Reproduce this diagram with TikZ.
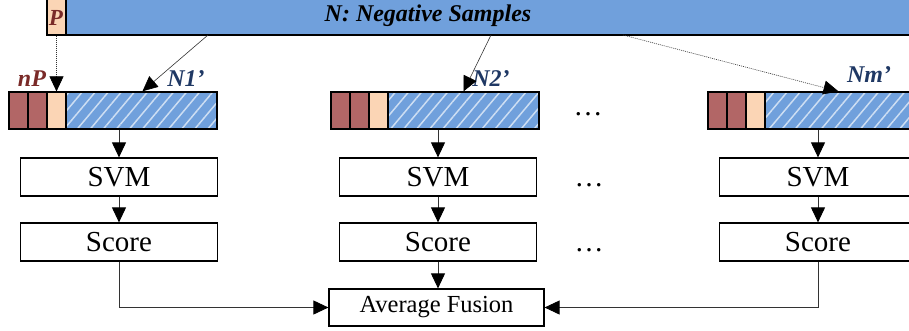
\documentclass[tikz,border=0pt]{standalone}
\usepackage{fontspec}
\setmainfont{Liberation Serif}
\usetikzlibrary{arrows.meta,patterns.meta,calc}
\definecolor{nblue}{RGB}{112,160,220}
\definecolor{peach}{RGB}{251,213,181}
\definecolor{dred}{RGB}{178,102,102}
\definecolor{lred}{RGB}{122,42,40}
\definecolor{lblue}{RGB}{31,56,100}
\tikzset{
  seg/.style={draw, line width=1.2pt, inner sep=0pt, minimum height=37pt},
  hatch/.style={seg, preaction={fill=nblue}, pattern={Lines[angle=50,distance=10pt,line width=1.5pt]}, pattern color=white!65!nblue},
  box/.style={draw, line width=1.2pt, inner sep=0pt, minimum width=197pt, minimum height=38pt, font=\fontsize{29}{34}\selectfont},
  conn/.style={line width=0.9pt, draw=black!80, -{Triangle[length=15pt,width=14pt,color=black]}},
  thin/.style={line width=0.6pt, draw=black!80, -{Triangle[length=15pt,width=14pt,color=black]}},
  lab/.style={font=\fontsize{24}{28}\selectfont\bfseries\itshape, inner sep=0pt},
  dotsl/.style={font=\fontsize{29}{34}\selectfont, inner sep=0pt}
}
\newcommand\mkbar[2]{%
  \node[seg, fill=dred, minimum width=19pt] (#1a) at ({#2+9.5},110.5) {};
  \node[seg, fill=dred, minimum width=19pt] (#1b) at ({#2+28.5},110.5) {};
  \node[seg, fill=peach, minimum width=19pt] (#1c) at ({#2+47.5},110.5) {};
  \node[hatch, minimum width=151pt] (#1h) at ({#2+132.5},110.5) {};
}
\begin{document}
\begin{tikzpicture}[x=1pt,y=-1pt]
\useasboundingbox (0,0) rectangle (909,330);
\clip (0,0) rectangle (909,330);
% top bar
\node[seg, fill=peach, minimum width=19pt, minimum height=42pt] (pbox) at (56.5,14) {};
\node[seg, fill=nblue, minimum width=864pt, minimum height=42pt] (nbar) at (498,14) {};
\node[lab, text=black] (ntext) at (428,16) {N: Negative Samples};
\node[lab, text=lred, font=\fontsize{23}{27}\selectfont\bfseries\itshape] (plab) at (56,18) {P};
% sample bars
\mkbar{ba}{9}
\mkbar{bb}{331}
\mkbar{bc}{708}
\node[lab, text=lred] (nplab) at (32,79) {nP};
\node[lab, text=lblue] (n1lab) at (186,79) {N1'};
\node[lab, text=lblue] (n2lab) at (491,79) {N2'};
\node[lab, text=lblue] (nmlab) at (869,75) {Nm'};
% arrows from top
\coordinate (s1) at (208,35);
\coordinate (s2) at (491,35);
\coordinate (s3) at (623,35);
\draw[thin, dash pattern=on 1pt off 1pt] (pbox.south) -- (bac.north);
\draw[thin] (s1) -- ($(bah.north)+(1,0)$);
\draw[thin] (s2) -- (bbh.north);
\draw[thin, dash pattern=on 1pt off 1pt] (s3) -- ($(bch.north)+(-2,0)$);
% boxes
\node[box] (svm1) at (119,177) {SVM};
\node[box] (svm2) at (438,177) {SVM};
\node[box] (svm3) at (818,177) {SVM};
\node[box] (sc1) at (119,242) {Score};
\node[box] (sc2) at (438,242) {Score};
\node[box] (sc3) at (818,242) {Score};
\node[box, minimum width=215pt, minimum height=37pt, font=\fontsize{24.5}{29}\selectfont] (af) at (436.5,307.5) {Average Fusion};
% dots
\node[dotsl] (d1) at (588,114) {\ldots};
\node[dotsl] (d2) at (589,185) {\ldots};
\node[dotsl] (d3) at (589,250) {\ldots};
% connectors
\draw[conn] (svm1.north |- bah.south) -- (svm1.north);
\draw[conn] (svm2.north |- bbh.south) -- (svm2.north);
\draw[conn] (svm3.north |- bch.south) -- (svm3.north);
\draw[conn] (svm1) -- (sc1);
\draw[conn] (svm2) -- (sc2);
\draw[conn] (svm3) -- (sc3);
\draw[conn] (sc1.south) |- (af.west);
\draw[conn] (sc3.south) |- (af.east);
\draw[conn] (sc2.south) -- (sc2.south |- af.north);
\end{tikzpicture}
\end{document}
